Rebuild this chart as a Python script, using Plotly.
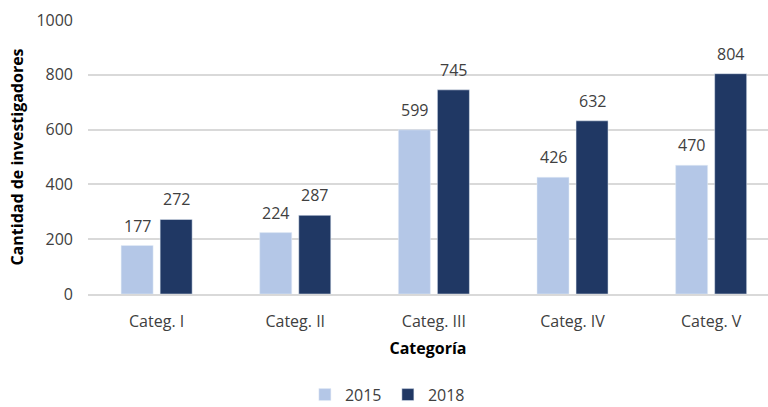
import plotly.graph_objects as go

categories = ["Categ. I", "Categ. II", "Categ. III", "Categ. IV", "Categ. V"]
values_2015 = [177, 224, 599, 426, 470]
values_2018 = [272, 287, 745, 632, 804]
y_ticks = [0, 200, 400, 600, 800, 1000]

FONT = "Open Sans"
TXT = "#404040"
C15 = "#B4C7E7"
C18 = "#203864"

fig = go.Figure()
fig.add_trace(go.Bar(name="2015", x=categories, y=values_2015, marker_color=C15))
fig.add_trace(go.Bar(name="2018", x=categories, y=values_2018, marker_color=C18))

# data labels above bars (offset to each bar within its group)
for vals, dx in ((values_2015, -19.5), (values_2018, 19.5)):
    for c, v in zip(categories, vals):
        fig.add_annotation(x=c, y=v, text=str(v), showarrow=False, xshift=dx,
                           yanchor="bottom", yshift=7,
                           font=dict(family=FONT, size=16, color=TXT))

fig.update_layout(
    width=768, height=407,
    margin=dict(l=88, r=0, t=20, b=113),
    paper_bgcolor="white", plot_bgcolor="white",
    barmode="group", bargap=0.437, bargroupgap=0.18,
    font=dict(family=FONT, size=16, color=TXT),
    showlegend=True,
    legend=dict(orientation="h", x=0.441, xanchor="center", yref="container",
                y=0.072, yanchor="top", entrywidth=38, entrywidthmode="pixels",
                itemwidth=30,
                font=dict(family=FONT, size=16, color=TXT), traceorder="normal"),
    xaxis=dict(range=[-0.495, 4.41], automargin=False, showgrid=False, showline=True,
               linecolor="#D9D9D9", linewidth=1.5, ticks="", ticklabelstandoff=12,
               tickfont=dict(family=FONT, size=16, color=TXT),
               title=dict(text="<b>Categoría</b>", font=dict(family=FONT, size=16, color="#000000"),
                          standoff=12)),
    yaxis=dict(range=[0, 1000], tickvals=y_ticks, automargin=False, showgrid=True,
               gridcolor="#D9D9D9", gridwidth=1.5, zeroline=False, showline=False, ticks="",
               tickfont=dict(family=FONT, size=16, color=TXT), ticklabelstandoff=14,
               title=dict(text="<b>Cantidad de investigadores</b>",
                          font=dict(family=FONT, size=16, color="#000000"), standoff=8)),
)

fig.write_html("out.html", config={"displayModeBar": False},
               post_script="document.body.style.margin='0';")
